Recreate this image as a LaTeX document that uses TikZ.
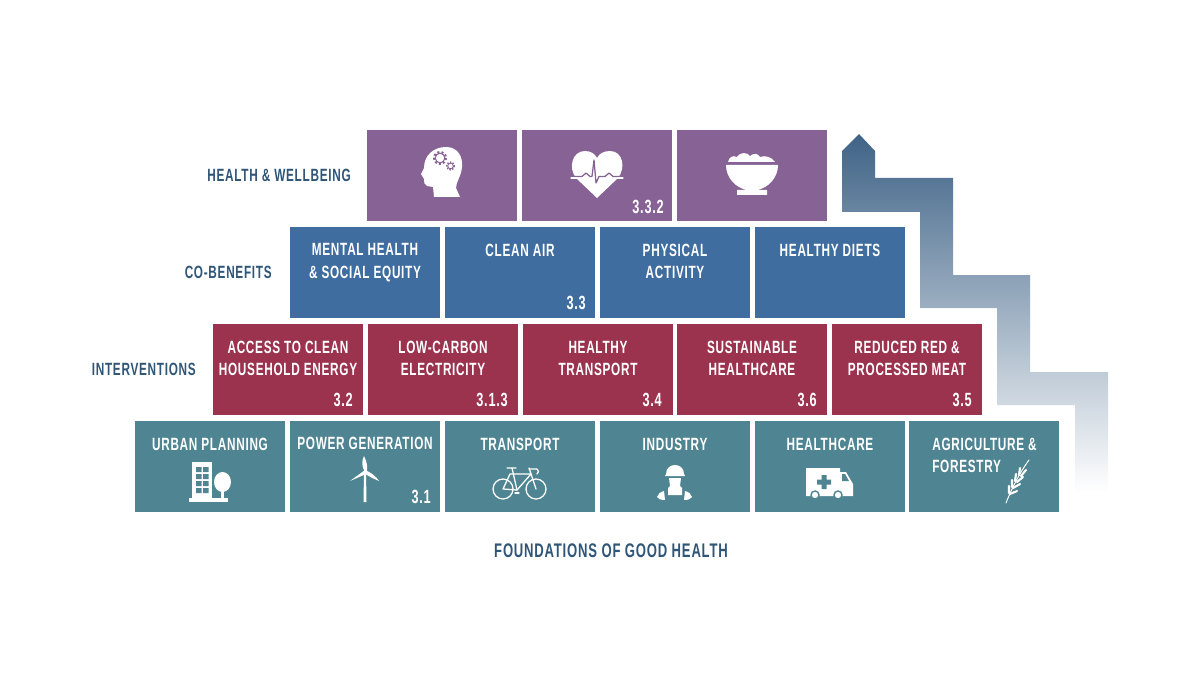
\documentclass[tikz,border=0pt]{standalone}
\usepackage{fontspec}
\newfontfamily\dinfont[FakeStretch=0.665,LetterSpace=4]{Liberation Sans}
\usepackage{xcolor}
\definecolor{wellpurple}{HTML}{866295}
\definecolor{benefitblue}{HTML}{3F6D9F}
\definecolor{actionred}{HTML}{9B334F}
\definecolor{baseteal}{HTML}{4F8592}
\definecolor{labelnavy}{HTML}{2F5577}
\definecolor{arrowdark}{HTML}{3F6387}
\definecolor{arrowmid}{HTML}{8FA3B9}
\usetikzlibrary{positioning}

\begin{document}
\begin{tikzpicture}[
  x=0.025cm, y=-0.025cm,
  every node/.style={font=\dinfont\bfseries\fontsize{12.6pt}{16.2pt}\selectfont},
  box/.style={minimum width=3.75cm, minimum height=2.275cm, inner sep=0pt},
  wellbox/.style={box, fill=wellpurple},
  benefitbox/.style={box, fill=benefitblue},
  actionbox/.style={box, fill=actionred},
  basebox/.style={box, fill=baseteal},
  boxtitle/.style={text=white, align=center, inner sep=0pt},
  sdg/.style={text=white, anchor=east, inner sep=0pt, font=\dinfont\bfseries\fontsize{13.6pt}{16pt}\selectfont},
  rowlabel/.style={text=labelnavy, anchor=east, inner sep=0pt},
  icon/.style={fill=white, draw=none},
  iconline/.style={draw=white, fill=none, line width=0.9pt, line cap=round, line join=round},
  grain/.style={draw=white, line width=1.5pt, line cap=round}]
  \useasboundingbox (0,0) rectangle (1200,675);

  % climbing arrow behind the pyramid
  \shade[top color=arrowdark, middle color=arrowmid, bottom color=white, shading angle=0]
    (859,134) -- (875,151) -- (875,178) -- (953,178) -- (953,275) -- (1030,275) -- (1030,372)
    -- (1108,372) -- (1108,492) -- (1075,492) -- (1075,405) -- (997,405) -- (997,308)
    -- (920,308) -- (920,212) -- (842,212) -- (842,151) -- cycle;

  % health and wellbeing
  \node[rowlabel] (wellLabel) at (351,175) {HEALTH \& WELLBEING};
  \node[wellbox] (mind) at (442,175.5) {};
  \node[wellbox] (heart) at (597,175.5) {};
  \node[wellbox] (diet) at (752,175.5) {};
  \node[sdg] (heartNo) at (664,207) {3.3.2};

  % co-benefits
  \node[rowlabel] (benefitLabel) at (272,272) {CO-BENEFITS};
  \node[benefitbox] (mental) at (365,272.5) {};
  \node[benefitbox] (air) at (520,272.5) {};
  \node[benefitbox] (activity) at (675,272.5) {};
  \node[benefitbox] (diets) at (830,272.5) {};
  \node[boxtitle] (mentalText) at (365,262.5) {MENTAL HEALTH\\\& SOCIAL EQUITY};
  \node[boxtitle] (airText) at (520,250.5) {CLEAN AIR};
  \node[boxtitle] (activityText) at (675,261.5) {PHYSICAL\\ACTIVITY};
  \node[boxtitle] (dietsText) at (830,250.5) {HEALTHY DIETS};
  \node[sdg] (airNo) at (586,303) {3.3};

  % interventions
  \node[rowlabel] (actionLabel) at (196,369) {INTERVENTIONS};
  \node[actionbox] (energy) at (288,369.5) {};
  \node[actionbox] (power) at (443,369.5) {};
  \node[actionbox] (healthy) at (598,369.5) {};
  \node[actionbox] (sustain) at (752,369.5) {};
  \node[actionbox] (meat) at (907,369.5) {};
  \node[boxtitle] (energyText) at (288,358.5) {ACCESS TO CLEAN\\HOUSEHOLD ENERGY};
  \node[boxtitle] (powerText) at (443,358.5) {LOW-CARBON\\ELECTRICITY};
  \node[boxtitle] (healthyText) at (598,358.5) {HEALTHY\\TRANSPORT};
  \node[boxtitle] (sustainText) at (752,358.5) {SUSTAINABLE\\HEALTHCARE};
  \node[boxtitle] (meatText) at (907,358.5) {REDUCED RED \&\\PROCESSED MEAT};
  \node[sdg] (energyNo) at (353,400) {3.2};
  \node[sdg] (powerNo) at (508,400) {3.1.3};
  \node[sdg] (healthyNo) at (662,400) {3.4};
  \node[sdg] (sustainNo) at (817,400) {3.6};
  \node[sdg] (meatNo) at (972,400) {3.5};

  % foundations
  \node[basebox] (urban) at (210,466.5) {};
  \node[basebox] (generation) at (365,466.5) {};
  \node[basebox] (transport) at (520,466.5) {};
  \node[basebox] (industry) at (675,466.5) {};
  \node[basebox] (care) at (830,466.5) {};
  \node[basebox] (farm) at (984,466.5) {};
  \node[boxtitle] (urbanText) at (210,444.5) {URBAN PLANNING};
  \node[boxtitle] (generationText) at (365,443.5) {POWER GENERATION};
  \node[boxtitle] (transportText) at (520,444.5) {TRANSPORT};
  \node[boxtitle] (industryText) at (675,444.5) {INDUSTRY};
  \node[boxtitle] (careText) at (830,444.5) {HEALTHCARE};
  \node[boxtitle, align=left, anchor=west] (farmText) at (932,455.5) {AGRICULTURE \&\\FORESTRY};
  \node[sdg] (generationNo) at (431,497) {3.1};
  \node[rowlabel, anchor=center, font=\dinfont\bfseries\fontsize{14pt}{16pt}\selectfont] (baseLabel) at (611,551) {FOUNDATIONS OF GOOD HEALTH};

  % head with gears
  \fill[icon] (434,197) -- (433,187) -- (427,186) .. controls (424,185) and (424,182) .. (424,179)
    -- (421,174) -- (424,168) .. controls (424,155) and (434,147) .. (446,147)
    .. controls (458,147) and (463,157) .. (462,167) .. controls (461,177) and (456,182) .. (456,188)
    -- (460,197) -- cycle;
  \draw[wellpurple, line width=0.7pt] (440,158) circle (4.8);
  \draw[wellpurple, line width=1.4pt, dash pattern=on 1.5pt off 1.5pt] (440,158) circle (6);
  \draw[wellpurple, line width=0.6pt] (450.5,166) circle (2.8);
  \draw[wellpurple, line width=1pt, dash pattern=on 1pt off 1pt] (450.5,166) circle (3.8);

  % heart with pulse
  \fill[icon] (597,198) -- (576,178) .. controls (568,168) and (572,151) .. (585,151)
    .. controls (591,151) and (595,154) .. (597,158) .. controls (599,154) and (603,151) .. (610,151)
    .. controls (623,151) and (626,168) .. (618,178) -- cycle;
  \draw[wellpurple, line width=0.9pt, line join=round] (574,176.5) -- (582,176.5) -- (586,173) -- (590,176.5)
    -- (592,176.5) -- (594,160) -- (596,183) -- (599,176.5) -- (605,176.5) -- (609,173) -- (613,176.5) -- (620,176.5);
  \draw[iconline, line width=0.8pt] (571,178) -- (577,178) (617,178) -- (623,178);

  % bowl
  \fill[icon] (728,162) .. controls (729,157) and (733,155) .. (737,157) .. controls (739,152) and (748,152) .. (750,156)
    .. controls (753,153) and (758,153) .. (760,157) .. controls (765,155) and (772,157) .. (775,162) -- cycle;
  \fill[icon] (726,165) -- (778,165) .. controls (778,178) and (768,188) .. (757,190) -- (767,190) -- (767,195)
    -- (737,195) -- (737,190) -- (747,190) .. controls (736,188) and (726,178) .. (726,165) -- cycle;

  % building and tree
  \fill[icon] (192,462) rectangle (212,498);
  \fill[icon] (189,498) rectangle (228,502);
  \fill[baseteal] (196,467) rectangle (201.5,472) (203,467) rectangle (208.5,472)
    (196,474) rectangle (201.5,479) (203,474) rectangle (208.5,479)
    (196,481) rectangle (201.5,486) (203,481) rectangle (208.5,486)
    (196,488) rectangle (201.5,493) (203,488) rectangle (208.5,493);
  \fill[icon] (222.5,482) ellipse (8.5 and 10);
  \fill[icon] (221,488) rectangle (224,498);

  % wind turbine
  \fill[icon] (364,472) -- (366,472) -- (366.5,502) -- (363.5,502) -- cycle;
  \fill[icon] (365,472) .. controls (361,466) and (362,460) .. (364,456) .. controls (367,462) and (368,468) .. (366.5,472) -- cycle;
  \fill[icon] (365,470) -- (350,481) -- (366,474) -- cycle;
  \fill[icon] (365,470) .. controls (370,472) and (376,476) .. (379,481) .. controls (374,479) and (368,476) .. (364,473) -- cycle;

  % bicycle
  \draw[iconline] (503,489) circle (10) (536,489) circle (10);
  \draw[iconline] (503,489) -- (510,474) -- (531,474) -- (517,490) -- (503,489);
  \draw[iconline] (512,468) -- (517,490) (529,468) -- (536,489);
  \draw[iconline] (507,468) -- (516,468) (529,469) -- (537,469) .. controls (539,470) and (539,473) .. (537,474);
  \draw[iconline] (515,493) -- (519,493);

  % worker
  \fill[icon] (666,474) .. controls (666,462) and (684,462) .. (684,474) -- (685,476) -- (665,476) -- cycle;
  \fill[icon] (669,478) -- (681,478) -- (680,486) -- (682,488) -- (682,495) -- (668,495) -- (668,488) -- (670,486) -- cycle;
  \fill[icon] (664,491) -- (665,500) .. controls (661,500) and (658,499) .. (657,497) .. controls (658,494) and (660,492) .. (664,491) -- cycle;
  \fill[icon] (685,491) -- (684,500) .. controls (688,500) and (691,499) .. (692,497) .. controls (691,494) and (689,492) .. (685,491) -- cycle;

  % ambulance
  \fill[icon] (806,468) -- (840,468) -- (840,472) -- (846,472) -- (853,484) -- (853,496) -- (806,496) -- cycle;
  \fill[baseteal] (842,474) -- (845,474) -- (849,481) -- (842,481) -- cycle;
  \fill[baseteal] (821.5,475) rectangle (826.5,489) (817,479.5) rectangle (831,484.5);
  \filldraw[fill=white, draw=baseteal, line width=1pt] (815,495) circle (4) (838,495) circle (4);

  % wheat ear
  \draw[iconline, line width=0.7pt] (1006,503) .. controls (1011,490) and (1020,472) .. (1029,460);
  \draw[grain] (1009,493) -- (1009,486) (1012,487) -- (1012,480) (1015,481) -- (1016,474) (1019,475) -- (1020,468);
  \draw[grain] (1010,494) -- (1017,491) (1013,488) -- (1020,484) (1017,482) -- (1023,477) (1021,476) -- (1026,470);
\end{tikzpicture}
\end{document}
